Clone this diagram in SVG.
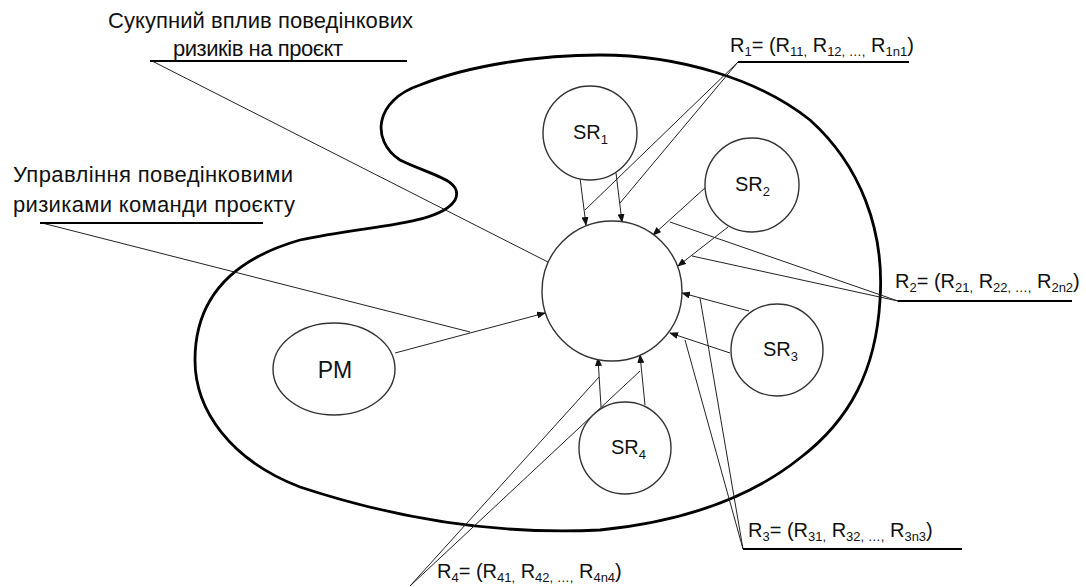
<svg xmlns="http://www.w3.org/2000/svg" width="1086" height="587" viewBox="0 0 1086 587">
<style>
.bg{fill:#fff}
.blob{fill:none;stroke:#000;stroke-width:2.8}
.node{fill:#fff;stroke:#333;stroke-width:1.4}
.con{stroke:#222;stroke-width:1;fill:none}
.ul{stroke:#000;stroke-width:2;fill:none}
.t{font-family:"Liberation Sans",Arial,sans-serif;font-size:22px;fill:#111}
.lbl{font-family:"Liberation Sans",Arial,sans-serif;font-size:20px;fill:#111}
.sub{font-size:13px}
.nl{font-family:"Liberation Sans",Arial,sans-serif;font-size:20px;fill:#111}
.pml{font-family:"Liberation Sans",Arial,sans-serif;font-size:23px;fill:#111}
</style>
<defs>
<marker id="ah" markerUnits="userSpaceOnUse" markerWidth="9" markerHeight="7" refX="8" refY="3.5" orient="auto">
<path d="M0,0 L9,3.5 L0,7 z" fill="#111"/>
</marker>
</defs>
<rect class="bg" width="1086" height="587"/>
<g id="boundary">
<path class="blob" d="M600 55 C680 55 760 80 810 120 C860 165 885 230 880 300 C876 370 850 420 800 458 C760 490 700 520 600 530 C500 535 400 520 300 487 C230 460 195 410 195 360 C195 300 230 260 300 240 C370 225 440 225 455 200 C465 180 430 175 400 160 C370 140 375 100 420 85 C470 65 540 55 600 55 Z"/>
</g>
<g id="connectors">
<line class="con" x1="395" y1="353" x2="545" y2="313" marker-end="url(#ah)"/>
<line class="con" x1="580" y1="178" x2="586" y2="225" marker-end="url(#ah)"/>
<line class="con" x1="616" y1="173" x2="622" y2="222" marker-end="url(#ah)"/>
<line class="con" x1="706" y1="187" x2="653" y2="235" marker-end="url(#ah)"/>
<line class="con" x1="728" y1="227" x2="678" y2="266" marker-end="url(#ah)"/>
<line class="con" x1="749" y1="311" x2="682" y2="293" marker-end="url(#ah)"/>
<line class="con" x1="730" y1="353" x2="670" y2="333" marker-end="url(#ah)"/>
<line class="con" x1="601" y1="407" x2="598" y2="358" marker-end="url(#ah)"/>
<line class="con" x1="645" y1="405" x2="640" y2="355" marker-end="url(#ah)"/>
<line class="con" x1="152" y1="61" x2="607" y2="292"/>
<line class="con" x1="42" y1="223" x2="470" y2="332"/>
<line class="con" x1="738" y1="62" x2="585" y2="210"/>
<line class="con" x1="738" y1="62" x2="620" y2="203"/>
<line class="con" x1="898" y1="301" x2="670" y2="222"/>
<line class="con" x1="898" y1="301" x2="692" y2="256"/>
<line class="con" x1="743" y1="549" x2="700" y2="298"/>
<line class="con" x1="743" y1="549" x2="685" y2="340"/>
<line class="con" x1="410" y1="586" x2="599" y2="377"/>
<line class="con" x1="410" y1="586" x2="640" y2="371"/>
<line class="ul" x1="150" y1="61" x2="407" y2="61"/>
<line class="ul" x1="40" y1="223" x2="263" y2="223"/>
<line class="ul" x1="738" y1="62" x2="909" y2="62"/>
<line class="ul" x1="898" y1="301" x2="1072" y2="301"/>
<line class="ul" x1="743" y1="549" x2="962" y2="549"/>
</g>
<g id="center"><circle class="node" cx="612" cy="291" r="70"/></g>
<g id="sr1"><circle class="node" cx="590" cy="133" r="47"/><text class="nl" x="573" y="139">SR<tspan class="sub" dy="5">1</tspan></text></g>
<g id="sr2"><circle class="node" cx="752" cy="185" r="47"/><text class="nl" x="735" y="191">SR<tspan class="sub" dy="5">2</tspan></text></g>
<g id="sr3"><circle class="node" cx="777" cy="350" r="46"/><text class="nl" x="763" y="356">SR<tspan class="sub" dy="5">3</tspan></text></g>
<g id="sr4"><circle class="node" cx="625" cy="448" r="46"/><text class="nl" x="611" y="454">SR<tspan class="sub" dy="5">4</tspan></text></g>
<g id="pm"><ellipse class="node" cx="334" cy="369" rx="61" ry="46"/><text class="pml" x="335" y="378" text-anchor="middle">PM</text></g>
<g id="label-impact">
<text class="t" x="108" y="28" textLength="305">Сукупний вплив поведінкових</text>
<text class="t" x="173" y="56" textLength="170">ризиків на проєкт</text>
</g>
<g id="label-mgmt">
<text class="t" x="13" y="182" textLength="280">Управління поведінковими</text>
<text class="t" x="13" y="212" textLength="282">ризиками команди проєкту</text>
</g>
<g id="label-r1"><text class="lbl" x="730" y="52">R<tspan class="sub" dy="4">1</tspan><tspan dy="-4">= (R</tspan><tspan class="sub" dy="4">11,</tspan><tspan dy="-4"> R</tspan><tspan class="sub" dy="4">12, …,</tspan><tspan dy="-4"> R</tspan><tspan class="sub" dy="4">1n1</tspan><tspan dy="-4">)</tspan></text></g>
<g id="label-r2"><text class="lbl" x="895" y="288">R<tspan class="sub" dy="4">2</tspan><tspan dy="-4">= (R</tspan><tspan class="sub" dy="4">21,</tspan><tspan dy="-4"> R</tspan><tspan class="sub" dy="4">22, …,</tspan><tspan dy="-4"> R</tspan><tspan class="sub" dy="4">2n2</tspan><tspan dy="-4">)</tspan></text></g>
<g id="label-r3"><text class="lbl" x="748" y="537">R<tspan class="sub" dy="4">3</tspan><tspan dy="-4">= (R</tspan><tspan class="sub" dy="4">31,</tspan><tspan dy="-4"> R</tspan><tspan class="sub" dy="4">32, …,</tspan><tspan dy="-4"> R</tspan><tspan class="sub" dy="4">3n3</tspan><tspan dy="-4">)</tspan></text></g>
<g id="label-r4"><text class="lbl" x="437" y="578">R<tspan class="sub" dy="4">4</tspan><tspan dy="-4">= (R</tspan><tspan class="sub" dy="4">41,</tspan><tspan dy="-4"> R</tspan><tspan class="sub" dy="4">42, …,</tspan><tspan dy="-4"> R</tspan><tspan class="sub" dy="4">4n4</tspan><tspan dy="-4">)</tspan></text></g>
</svg>
